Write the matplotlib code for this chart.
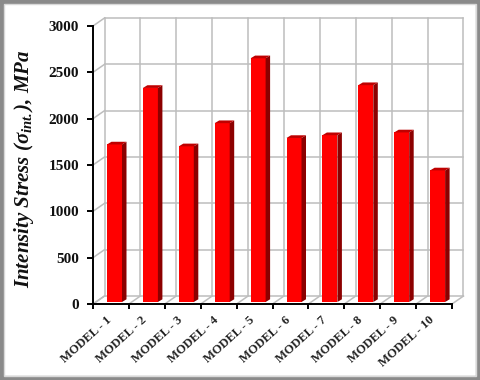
import numpy as np
from matplotlib import pyplot as plt
from matplotlib.patches import Polygon, Rectangle

models = ['MODEL - 1', 'MODEL - 2', 'MODEL - 3', 'MODEL - 4', 'MODEL - 5',
          'MODEL - 6', 'MODEL - 7', 'MODEL - 8', 'MODEL - 9', 'MODEL - 10']
stress = [1700, 2310, 1680, 1930, 2630, 1770, 1800, 2340, 1830, 1420]
y_ticks = [0, 500, 1000, 1500, 2000, 2500, 3000]

plt.rcParams['font.family'] = ['Liberation Serif', 'DejaVu Serif']
plt.rcParams['font.weight'] = 'bold'
plt.rcParams['mathtext.fontset'] = 'custom'
plt.rcParams['mathtext.rm'] = 'Liberation Serif:italic:bold'
plt.rcParams['mathtext.it'] = 'Liberation Serif:italic:bold'
plt.rcParams['mathtext.bf'] = 'Liberation Serif:italic:bold'

W, H = 480, 380
fig = plt.figure(figsize=(W / 100, H / 100), dpi=100, facecolor='white')
ax = fig.add_axes([93 / W, 1 - 304 / H, 359 / W, 278 / H])
ax.set_xlim(0, 10)
ax.set_ylim(0, 3000)
ax.patch.set_visible(False)

# px to data
px_x = 10 / 359
px_y = 3000 / 278
dx = 11.5 * px_x
dy = 8 * px_y
grid = '#bdbdbd'

# 3d walls
for v in y_ticks:
    ax.plot([0, dx], [v, v + dy], color=grid, lw=1.1, clip_on=False, zorder=1)
    ax.plot([dx, 10 + dx], [v + dy, v + dy], color=grid, lw=1.1, clip_on=False, zorder=1)
for i in range(11):
    ax.plot([i + dx, i + dx], [dy, 3000 + dy], color=grid, lw=1.1, clip_on=False, zorder=1)
    ax.plot([i, i + dx], [0, dy], color=grid, lw=1.1, clip_on=False, zorder=1)

# bars
x = np.arange(10) + 0.39
width = 15 * px_x
side = 4.5 * px_x
rise = 2.7 * px_y
base = 2 * px_y
stress_arr = np.array(stress)
ax.bar(x, stress_arr, width=width, bottom=base, align='edge', color='#ff0000',
       edgecolor='none', zorder=3, clip_on=False)
for xi, v in zip(x, stress_arr):
    top = v + base
    ax.add_patch(Polygon([(xi + width, base), (xi + width + side, base + rise),
                          (xi + width + side, top + rise), (xi + width, top)],
                         closed=True, fc='#8c0000', ec='none', zorder=3, clip_on=False))
    ax.add_patch(Polygon([(xi, top), (xi + side, top + rise),
                          (xi + width + side, top + rise), (xi + width, top)],
                         closed=True, fc='#bf0000', ec='none', zorder=3, clip_on=False))

# axes
for s in ['top', 'right']:
    ax.spines[s].set_visible(False)
for s in ['left', 'bottom']:
    ax.spines[s].set_linewidth(1.4)
    ax.spines[s].set_zorder(5)
ax.set_yticks(y_ticks)
ax.set_yticklabels([str(v) for v in y_ticks], fontsize=11, fontweight='bold', color='#111111')
ax.tick_params(axis='y', length=4, width=1.4, pad=6)
ax.set_xticks(np.arange(11))
ax.set_xticklabels([])
ax.tick_params(axis='x', length=3.5, width=1.4)
for i, name in enumerate(models):
    ax.annotate(name, xy=(i + 0.5, 0), xycoords=('data', 'axes fraction'),
                xytext=(-4, -7), textcoords='offset points', rotation=42, ha='right', va='top',
                rotation_mode='anchor', fontsize=9, fontweight='bold', color='#222222',
                annotation_clip=False)

fig.text(24 / W, 1 - 169 / H, r'Intensity Stress ($\sigma_{int.}$), MPa', rotation=90,
         ha='center', va='center', fontsize=15, fontweight='bold', fontstyle='italic',
         color='#111111')

# picture frame
fig.add_artist(Rectangle((0, 0), 1, 1, transform=fig.transFigure, fill=False,
                         ec='#8a8a8a', lw=6))
fig.add_artist(Rectangle((4 / W, 4 / H), 1 - 8 / W, 1 - 8 / H, transform=fig.transFigure,
                         fill=False, ec='#d8d8d8', lw=1))

fig.savefig('out.png', dpi=100)
